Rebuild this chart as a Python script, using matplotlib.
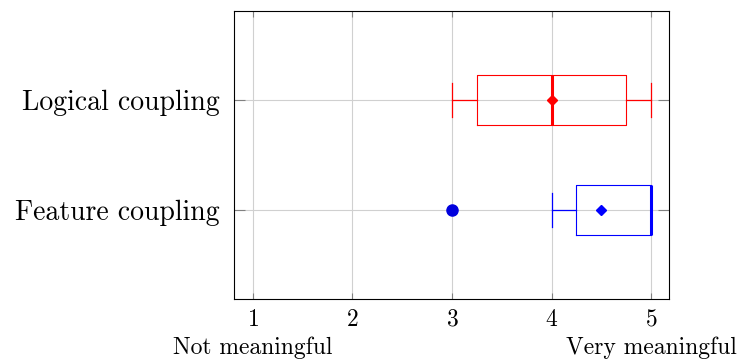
import matplotlib.pyplot as plt
import numpy as np

plt.rcParams['font.family'] = ['cmr10', 'DejaVu Serif']
plt.rcParams['axes.formatter.use_mathtext'] = True

categories = ['Feature coupling', 'Logical coupling']
colors = ['blue', 'red']
whislo = [4, 3]
q1 = [4.25, 3.25]
med = [5, 4]
mean = [4.5, 4]
q3 = [5, 4.75]
whishi = [5, 5]
fliers = [[3], []]

fig = plt.figure(figsize=(7.39, 3.61), dpi=100)
ax = fig.add_axes([234 / 739, 1 - 299 / 361, (669 - 234) / 739, (299 - 11) / 361])

for i, name in enumerate(categories):
    stats = [dict(label=name, whislo=whislo[i], q1=q1[i], med=med[i], mean=mean[i],
                  q3=q3[i], whishi=whishi[i], fliers=fliers[i])]
    c = colors[i]
    ax.bxp(stats, positions=[i + 1], vert=False, widths=0.46, showmeans=True,
           boxprops=dict(color=c, linewidth=0.8),
           whiskerprops=dict(color=c, linewidth=0.9),
           capprops=dict(color=c, linewidth=0.9),
           medianprops=dict(color=c, linewidth=2.2),
           meanprops=dict(marker='D', markerfacecolor=c, markeredgecolor=c, markersize=5),
           flierprops=dict(marker='o', markerfacecolor='#0000dd', markeredgecolor='#0000dd',
                           markersize=8),
           capwidths=0.31, zorder=3)

ax.set_xlim(0.81, 5.18)
ax.set_ylim(0.19, 2.81)
ax.set_xticks([1, 2, 3, 4, 5])
ax.set_yticks([1, 2])
ax.set_yticklabels(categories, fontsize=20)
ax.tick_params(axis='x', labelsize=17, direction='in', top=True, color='gray', length=4, pad=7)
ax.tick_params(axis='y', direction='in', right=True, color='gray', length=8, pad=10)
ax.grid(True, color='#d0d0d0', linewidth=0.8, zorder=0)
ax.set_axisbelow(True)
for s in ax.spines.values():
    s.set_linewidth(0.8)

ax.text(1, -0.17, 'Not meaningful', transform=ax.get_xaxis_transform(),
        ha='center', va='center', fontsize=17)
ax.text(5, -0.17, 'Very meaningful', transform=ax.get_xaxis_transform(),
        ha='center', va='center', fontsize=17)

fig.savefig('out.png', dpi=100)
